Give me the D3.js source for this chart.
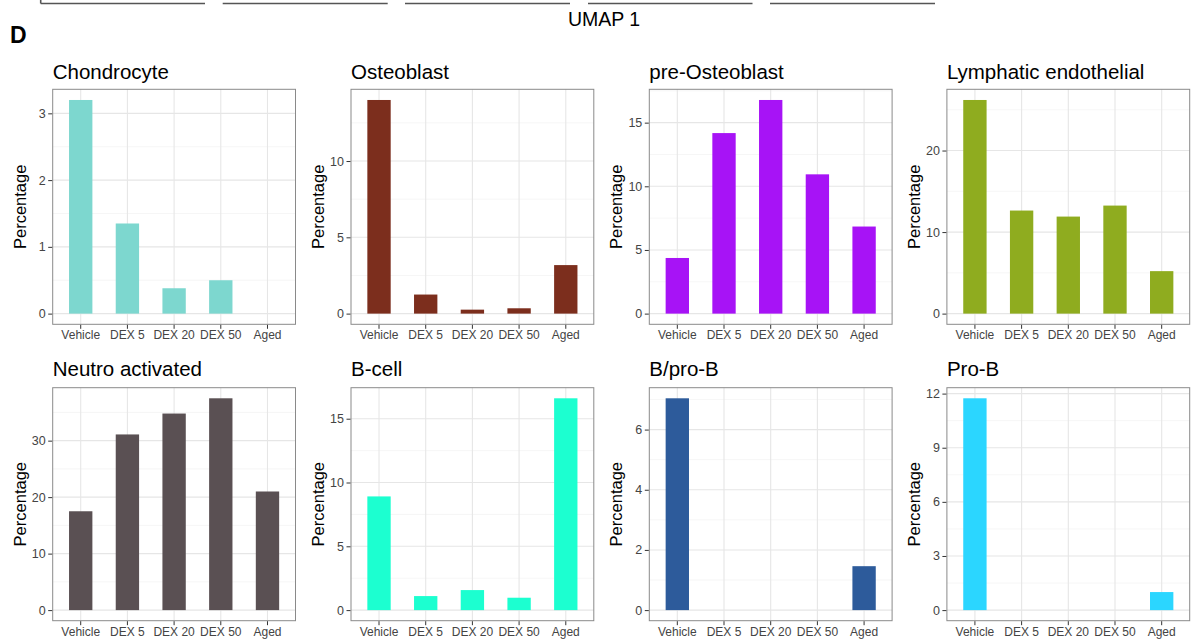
<!DOCTYPE html>
<html>
<head>
<meta charset="utf-8">
<script src="https://cdn.jsdelivr.net/npm/d3@7"></script>
<style>
  body { margin: 0; background: #fff; }
  svg { display: block; font-family: "Liberation Sans", Arial, Helvetica, sans-serif; }
  .tick line { stroke: #333; }
  .domain { display: none; }
</style>
</head>
<body>
<script>
// groups on the x axis of every panel
const groups = ['Vehicle', 'DEX 5', 'DEX 20', 'DEX 50', 'Aged'];

// percentage per group
const chondrocyte = [3.20, 1.35, 0.38, 0.50, 0];
const osteoblast = [14.0, 1.25, 0.26, 0.35, 3.18];
const preOsteoblast = [4.37, 14.18, 16.78, 10.94, 6.84];
const lymphaticEndothelial = [26.2, 12.64, 11.9, 13.25, 5.21];
const neutroActivated = [17.5, 31.1, 34.8, 37.5, 21.0];
const bCell = [8.91, 1.10, 1.57, 0.97, 16.6];
const bProB = [7.04, 0, 0, 0, 1.46];
const proB = [11.74, 0, 0, 0, 1.0];

const panelTitles = ['Chondrocyte', 'Osteoblast', 'pre-Osteoblast', 'Lymphatic endothelial',
    'Neutro activated', 'B-cell', 'B/pro-B', 'Pro-B'];
const panelValues = [chondrocyte, osteoblast, preOsteoblast, lymphaticEndothelial,
    neutroActivated, bCell, bProB, proB];
const panelColors = ['#7dd7cf', '#7c2e1d', '#a713f6', '#8fac1f',
    '#5a5053', '#1cffd0', '#2d5b9b', '#2bd6ff'];
const panelTicks = [
    [0, 1, 2, 3], [0, 5, 10], [0, 5, 10, 15], [0, 10, 20],
    [0, 10, 20, 30], [0, 5, 10, 15], [0, 2, 4, 6], [0, 3, 6, 9, 12]
];

const width = 1193;
const height = 641;

const colLeft = [52.7, 351, 649.3, 946.9];
const panelWidth = 242.8;
const rows = [
    { top: 89.3, bottom: 324.3, titleY: 78.5 },
    { top: 387.7, bottom: 620.7, titleY: 375.5 }
];

const svg = d3.select('body')
    .append('svg')
    .attr('width', width)
    .attr('height', height);

// bits of the previous figure row (UMAP axes) that are cut off at the top
const umapAxes = [[40.7, 205], [222.7, 387.7], [405, 570], [588, 752.5], [770, 935]];
svg.append('g')
    .selectAll('line')
    .data(umapAxes)
    .join('line')
    .attr('x1', d => d[0])
    .attr('x2', d => d[1])
    .attr('y1', 3.5)
    .attr('y2', 3.5)
    .attr('stroke', '#555')
    .attr('stroke-width', 1.6);
svg.append('line')
    .attr('x1', 40.7).attr('x2', 40.7)
    .attr('y1', 0).attr('y2', 3.5)
    .attr('stroke', '#555')
    .attr('stroke-width', 1.6);

svg.append('text')
    .attr('x', 604)
    .attr('y', 26)
    .attr('text-anchor', 'middle')
    .style('font-size', '19.5px')
    .text('UMAP 1');

svg.append('text')
    .attr('x', 10)
    .attr('y', 43)
    .style('font-size', '23px')
    .style('font-weight', 'bold')
    .text('D');

const drawPanel = (i) => {
    const row = rows[Math.floor(i / 4)];
    const left = colLeft[i % 4];
    const right = left + panelWidth;
    const values = panelValues[i];
    const ticks = panelTicks[i];
    const max = d3.max(values);

    const x = d3.scaleBand()
        .domain(groups)
        .range([left, right])
        .paddingInner(0.5)
        .paddingOuter(0.35);

    const y = d3.scaleLinear()
        .domain([-0.05 * max, 1.05 * max])
        .range([row.bottom, row.top]);

    const g = svg.append('g');

    // minor grid halfway between the major breaks
    const step = ticks[1] - ticks[0];
    const minor = d3.range(ticks[0] + step / 2, y.domain()[1], step);

    g.selectAll('.minor')
        .data(minor)
        .join('line')
        .attr('x1', left).attr('x2', right)
        .attr('y1', d => y(d)).attr('y2', d => y(d))
        .attr('stroke', '#f2f2f2')
        .attr('stroke-width', 0.7);

    g.selectAll('.hmajor')
        .data(ticks)
        .join('line')
        .attr('x1', left).attr('x2', right)
        .attr('y1', d => y(d)).attr('y2', d => y(d))
        .attr('stroke', '#e6e6e6')
        .attr('stroke-width', 1.1);

    g.selectAll('.vmajor')
        .data(groups)
        .join('line')
        .attr('x1', d => x(d) + x.bandwidth() / 2)
        .attr('x2', d => x(d) + x.bandwidth() / 2)
        .attr('y1', row.top).attr('y2', row.bottom)
        .attr('stroke', '#e6e6e6')
        .attr('stroke-width', 1.1);

    g.selectAll('.bar')
        .data(groups.map((k, j) => ({ k, v: values[j] })))
        .join('rect')
        .attr('x', d => x(d.k))
        .attr('width', x.bandwidth())
        .attr('y', d => y(d.v))
        .attr('height', d => y(0) - y(d.v))
        .attr('fill', panelColors[i]);

    g.append('rect')
        .attr('x', left)
        .attr('y', row.top)
        .attr('width', panelWidth)
        .attr('height', row.bottom - row.top)
        .attr('fill', 'none')
        .attr('stroke', '#8a8a8a')
        .attr('stroke-width', 1);

    g.append('g')
        .attr('transform', `translate(${left - 0.5},0)`)
        .call(d3.axisLeft(y).tickValues(ticks).tickFormat(d3.format('d')).tickSize(4).tickPadding(2.5))
        .call(a => a.selectAll('text').style('font-size', '12.5px').attr('fill', '#444'));

    g.append('g')
        .attr('transform', `translate(0,${row.bottom + 0.5})`)
        .call(d3.axisBottom(x).tickSize(4).tickPadding(2))
        .call(a => a.selectAll('text').style('font-size', '12px').attr('fill', '#444'));

    g.append('text')
        .attr('transform', `translate(${left - 27},${(row.top + row.bottom) / 2}) rotate(-90)`)
        .attr('text-anchor', 'middle')
        .style('font-size', '16.5px')
        .text('Percentage');

    g.append('text')
        .attr('x', left)
        .attr('y', row.titleY)
        .style('font-size', '20.5px')
        .text(panelTitles[i]);
};

panelValues.forEach((_, i) => drawPanel(i));
</script>
</body>
</html>
